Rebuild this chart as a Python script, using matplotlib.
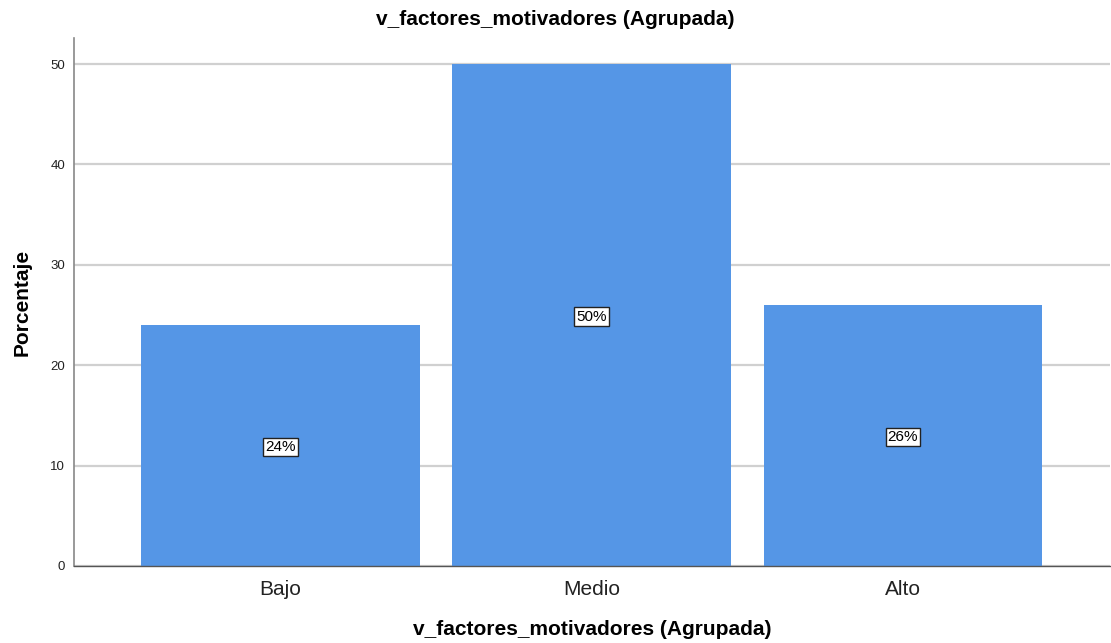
import matplotlib

matplotlib.use("Agg")
import matplotlib.pyplot as plt

categories = ["Bajo", "Medio", "Alto"]
percentages = [24, 50, 26]
yticks = [0, 10, 20, 30, 40, 50]

plt.rcParams["font.family"] = ["Liberation Sans", "DejaVu Sans"]

fig = plt.figure(figsize=(11.11, 6.43), dpi=100)
ax = fig.add_axes([0.0666, 0.1198, 0.9325, 0.8212])

xs = range(len(categories))
ax.bar(xs, percentages, width=0.896, color="#5596E6", zorder=2)
for x, v in zip(xs, percentages):
    ax.text(x, v / 2, f"{v}%", ha="center", va="center_baseline", fontsize=11, zorder=3,
            bbox=dict(boxstyle="square,pad=0.14", fc="white", ec="#222222", lw=1.0))

ax.set_xlim(-0.663, 2.665)
ax.set_ylim(0, 52.6)
ax.set_yticks(yticks)
ax.set_xticks(list(xs))
ax.set_xticklabels(categories, fontsize=15, color="#222222")
ax.tick_params(axis="y", labelsize=9.5, length=0, pad=6.5, labelcolor="#222222")
ax.tick_params(axis="x", length=0, pad=10)
ax.yaxis.grid(True, color="#d0d0d0", lw=1.6, zorder=0)
for side in ["top", "right"]:
    ax.spines[side].set_visible(False)
ax.spines["left"].set_color("#888888")
ax.spines["left"].set_linewidth(1.2)
ax.spines["bottom"].set_color("#555555")
ax.spines["bottom"].set_linewidth(1.0)

fig.suptitle("v_factores_motivadores (Agrupada)", fontsize=15, fontweight="bold", y=0.969, va="center")
ax.set_xlabel("v_factores_motivadores (Agrupada)", fontsize=15, fontweight="bold", labelpad=15)
ax.set_ylabel("Porcentaje", fontsize=15, fontweight="bold", labelpad=13)

fig.savefig("out.png")
